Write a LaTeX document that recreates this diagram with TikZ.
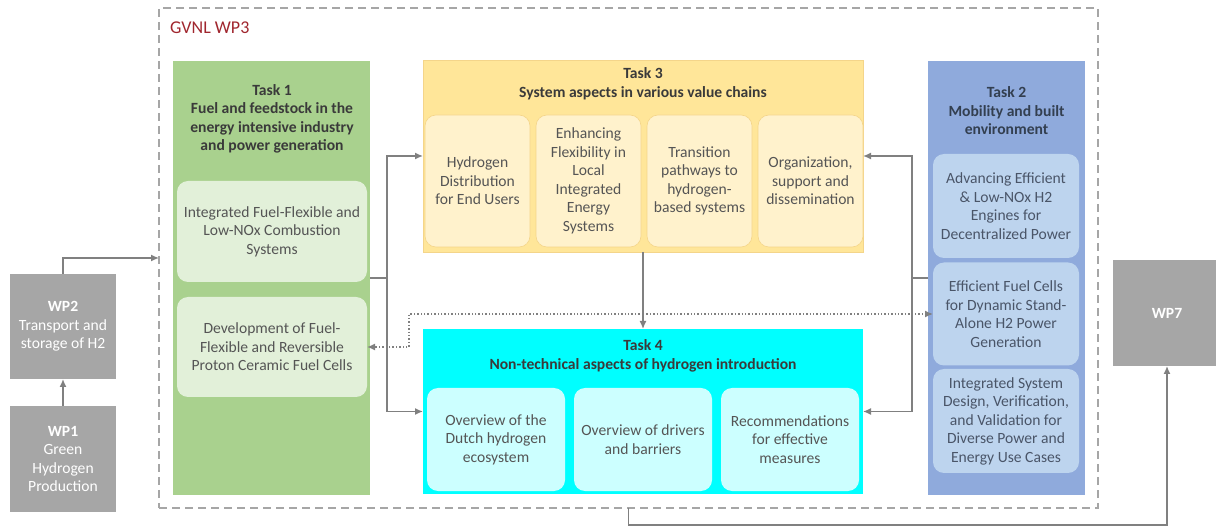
\documentclass[tikz,border=0pt]{standalone}
\usepackage{fontspec}
\setmainfont{Carlito}
\usepackage{xcolor}
\usetikzlibrary{arrows.meta,positioning,calc}
\definecolor{wpred}{HTML}{A0262E}
\definecolor{boxgray}{HTML}{A6A6A6}
\definecolor{wpgray}{HTML}{A6A6A6}
\definecolor{linegray}{HTML}{808080}
\definecolor{titletext}{HTML}{3A3A3A}
\definecolor{subtext}{HTML}{555555}
\definecolor{t1fill}{HTML}{A9D18E}
\definecolor{t1sub}{HTML}{E2F0D9}
\definecolor{t3fill}{HTML}{FFE699}
\definecolor{t3sub}{HTML}{FFF2CC}
\definecolor{t3edge}{HTML}{F4D58A}
\definecolor{t4fill}{HTML}{00FFFF}
\definecolor{t4sub}{HTML}{CCFFFF}
\definecolor{t2fill}{HTML}{8FAADC}
\definecolor{t2sub}{HTML}{BDD4EE}
\definecolor{t2title}{HTML}{333F50}
\definecolor{t2text}{HTML}{4A5568}

\begin{document}
\begin{tikzpicture}
  [
    x=1pt, y=-1pt,
    font=\fontsize{15.6}{18.5}\selectfont,
    >={Latex[length=8pt,width=7pt]},
    Task/.style={rectangle, inner sep=0pt, outer sep=0pt},
    Sub/.style={rectangle, rounded corners=11pt, inner sep=2pt, outer sep=0pt, align=center, text=subtext},
    Title/.style={inner sep=0pt, align=center, text=titletext, font=\fontsize{15.6}{18.5}\selectfont\bfseries},
    WP/.style={rectangle, fill=wpgray, inner sep=0pt, outer sep=0pt, align=center, text=white},
    Link/.style={draw=linegray, line width=1.4pt},
    Hint/.style={draw=linegray, line width=1.4pt, dotted}
  ]
  \useasboundingbox (0,0) rectangle (1216,526);
  % Nodes
  \node[Task, draw=boxgray, line width=1.2pt, dash pattern=on 8pt off 5pt,
    minimum width=939pt, minimum height=500pt] (wp3) at (628.5,258) {};
  \node[anchor=west, inner sep=0pt, text=wpred, font=\fontsize{18}{20}\selectfont] (wp3name) at (170,28) {GVNL WP3};

  \node[WP, minimum width=106pt, minimum height=105pt] (wp2) at (63,326.5) {\textbf{WP2}\\Transport and\\storage of H2};
  \node[WP, minimum width=106pt, minimum height=106pt] (wp1) at (63,459) {\textbf{WP1}\\Green\\Hydrogen\\Production};
  \node[WP, minimum width=108pt, minimum height=106pt] (wp7) at (1167,313) {\textbf{WP7}};

  % Task 1
  \node[Task, fill=t1fill, minimum width=197pt, minimum height=434pt] (t1) at (271.5,278) {};
  \node[Title] (t1title) at (272,119) {Task 1\\Fuel and feedstock in the\\energy intensive industry\\and power generation};
  \node[Sub, fill=t1sub, minimum width=190pt, minimum height=101pt] (t1a) at (272,231.5) {Integrated Fuel-Flexible and\\Low-NOx Combustion\\Systems};
  \node[Sub, fill=t1sub, minimum width=190pt, minimum height=100pt] (t1b) at (272,347) {Development of Fuel-\\Flexible and Reversible\\Proton Ceramic Fuel Cells};

  % Task 3
  \node[Task, fill=t3fill, draw=t3edge, line width=0.8pt, minimum width=440pt, minimum height=192pt] (t3) at (643,156) {};
  \node[Title] (t3title) at (643,84) {Task 3\\System aspects in various value chains};
  \node[Sub, fill=t3sub, draw=t3edge, line width=0.6pt, minimum width=105pt, minimum height=132pt] (t3a) at (477.5,181) {Hydrogen\\Distribution\\for End Users};
  \node[Sub, fill=t3sub, draw=t3edge, line width=0.6pt, minimum width=105pt, minimum height=132pt] (t3b) at (588.5,181) {Enhancing\\Flexibility in\\Local\\Integrated\\Energy\\Systems};
  \node[Sub, fill=t3sub, draw=t3edge, line width=0.6pt, minimum width=105pt, minimum height=132pt] (t3c) at (699.5,181) {Transition\\pathways to\\hydrogen-\\based systems};
  \node[Sub, fill=t3sub, draw=t3edge, line width=0.6pt, minimum width=105pt, minimum height=132pt] (t3d) at (810.5,181) {Organization,\\support and\\dissemination};

  % Task 4
  \node[Task, fill=t4fill, minimum width=440pt, minimum height=165pt] (t4) at (643,411.5) {};
  \node[Title] (t4title) at (643,356) {Task 4\\Non-technical aspects of hydrogen introduction};
  \node[Sub, fill=t4sub, minimum width=138pt, minimum height=103pt] (t4a) at (496,439.5) {Overview of the\\Dutch hydrogen\\ecosystem};
  \node[Sub, fill=t4sub, minimum width=138pt, minimum height=103pt] (t4b) at (643,439.5) {Overview of drivers\\and barriers};
  \node[Sub, fill=t4sub, minimum width=138pt, minimum height=103pt] (t4c) at (790,439.5) {Recommendations\\for effective\\measures};

  % Task 2
  \node[Task, fill=t2fill, minimum width=157pt, minimum height=433pt] (t2) at (1006.5,278) {};
  \node[Title, text=t2title] (t2title) at (1006.5,111) {Task 2\\Mobility and built\\environment};
  \node[Sub, fill=t2sub, text=t2text, minimum width=146pt, minimum height=104pt] (t2a) at (1006,206) {Advancing Efficient\\\& Low-NOx H2\\Engines for\\Decentralized Power};
  \node[Sub, fill=t2sub, text=t2text, minimum width=146pt, minimum height=103pt] (t2b) at (1006,314) {Efficient Fuel Cells\\for Dynamic Stand-\\Alone H2 Power\\Generation};
  \node[Sub, fill=t2sub, text=t2text, minimum width=146pt, minimum height=104pt] (t2c) at (1006,421) {Integrated System\\Design, Verification,\\and Validation for\\Diverse Power and\\Energy Use Cases};

  % Lines
  \coordinate (wp3in) at (wp3.west |- 0,258);
  \coordinate (j1) at (387,278);
  \coordinate (j2) at (912,278);
  \coordinate (d0) at (t3.south |- t2b.west);
  \coordinate (d1) at ([xshift=42pt]t1b.east);
  \path [->, Link] (wp1.north) -- (wp2.south);
  \path [->, Link] (wp2.north) |- (wp3in);
  \path [Link] (t1.east) -- (j1);
  \path [->, Link] (j1) |- (t3.west);
  \path [->, Link] (j1) |- (t4.west);
  \path [Link] (t2.west) -- (j2);
  \path [->, Link] (j2) |- (t3.east);
  \path [->, Link] (j2) |- (t4.east);
  \path [->, Link] (t3.south) -- (t4.north);
  \path [->, Hint] (d0) -| (d1) -- (t1b.east);
  \path [->, Hint] (d0) -- (t2b.west);
  \path [->, Link] (wp3.south) -- ++(0,17) -| (wp7.south);
\end{tikzpicture}
\end{document}
